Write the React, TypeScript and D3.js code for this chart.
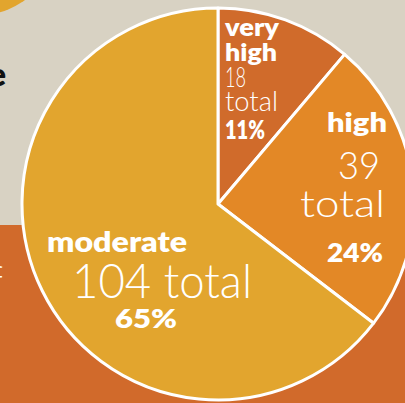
import React from "react";
import * as d3 from "d3";

// ---- data ----
const categories = ["very high", "high", "moderate"];
const counts = [18, 39, 104];

// ---- layout / style ----
const W = 405;
const H = 403;
const CX = 218;
const CY = 204;
const R = 196;
const sliceColors = ["#d06b2b", "#e38826", "#e2a52e"];
const BEIGE = "#d8d2c3";
const BAND = "#d16a2b";
const BOLD = "Lato, 'DejaVu Sans', sans-serif";
const LIGHT = "Lato, 'Open Sans', sans-serif";

type Lbl = { text: string; x: number; y: number; size: number; w: number; bold: boolean };

export default function App() {
  const total = d3.sum(counts);
  const pct = counts.map((c) => `${Math.round((c / total) * 100)}%`);

  const pie = d3
    .pie<number>()
    .sort(null)
    .value((d) => d)
    .startAngle(0)
    .endAngle(2 * Math.PI);
  const arcs = pie(counts);
  const arc = d3.arc<d3.PieArcDatum<number>>().innerRadius(0).outerRadius(R);

  const [vh, hi, mo] = categories;
  const vhWords = vh.split(" ");

  const labels: Lbl[] = [
    // very high
    { text: vhWords[0], x: 225, y: 36, size: 24, w: 54, bold: true },
    { text: vhWords[1], x: 225, y: 61, size: 24, w: 52, bold: true },
    { text: String(counts[0]), x: 225, y: 87, size: 28, w: 21, bold: false },
    { text: "total", x: 225, y: 111, size: 27, w: 53, bold: false },
    { text: pct[0], x: 225, y: 139, size: 27, w: 40, bold: true },
    // high
    { text: hi, x: 327, y: 132, size: 26, w: 60, bold: true },
    { text: String(counts[1]), x: 338, y: 179, size: 38, w: 42, bold: false },
    { text: "total", x: 300, y: 217, size: 38, w: 85, bold: false },
    { text: pct[1], x: 327, y: 262, size: 27, w: 56, bold: true },
    // moderate
    { text: mo, x: 47, y: 252, size: 28, w: 140, bold: true },
    { text: `${counts[2]} total`, x: 72, y: 298, size: 48, w: 180, bold: false },
    { text: pct[2], x: 115, y: 328, size: 26, w: 62, bold: true },
  ];

  return (
    <svg
      width={W}
      height={H}
      viewBox={`0 0 ${W} ${H}`}
      style={{ position: "absolute", left: 0, top: 0, display: "block" }}
    >
      <rect x={0} y={0} width={W} height={H} fill={BEIGE} />
      <rect x={0} y={225} width={W} height={H - 225} fill={BAND} />
      <circle cx={-20} cy={-60} r={75} fill={sliceColors[2]} />
      <text
        x={6}
        y={86}
        textAnchor="end"
        fontFamily={BOLD}
        fontWeight={800}
        fontSize={32}
        fill="#111"
      >
        e
      </text>
      <text
        x={3}
        y={298}
        textAnchor="end"
        fontFamily={LIGHT}
        fontWeight={300}
        fontSize={46}
        fill="#fff"
      >
        f
      </text>
      <g transform={`translate(${CX},${CY})`}>
        {arcs.map((a, i) => (
          <path
            key={categories[i]}
            d={arc(a) || ""}
            fill={sliceColors[i]}
            stroke="#fff"
            strokeWidth={3}
            strokeLinejoin="round"
          />
        ))}
      </g>
      {labels.map((l, i) => (
        <text
          key={i}
          x={l.x}
          y={l.y}
          fontFamily={l.bold ? BOLD : LIGHT}
          fontWeight={l.bold ? 800 : 300}
          fontSize={l.size}
          fill="#fff"
          textLength={l.w}
          lengthAdjust="spacingAndGlyphs"
        >
          {l.text}
        </text>
      ))}
    </svg>
  );
}
